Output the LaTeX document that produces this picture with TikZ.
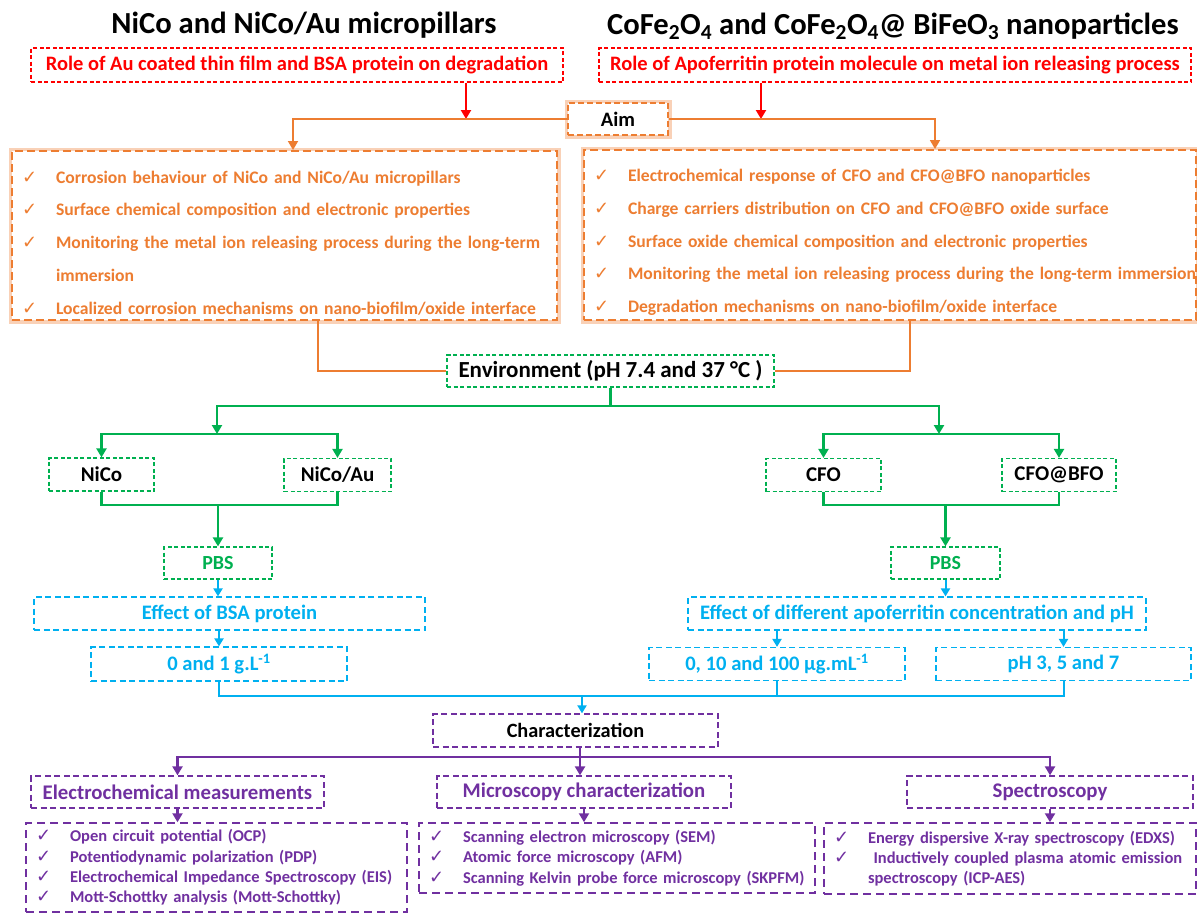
\documentclass[tikz,border=0pt]{standalone}
\usepackage{fontspec}
\setmainfont{Carlito}
\newfontfamily\symfont{DejaVu Sans}
\usepackage{xcolor}
\usetikzlibrary{arrows.meta, positioning}

\definecolor{redC}{HTML}{FF0000}
\definecolor{orangeC}{HTML}{ED7D31}
\definecolor{greenC}{HTML}{00B050}
\definecolor{blueC}{HTML}{00B0F0}
\definecolor{purpleC}{HTML}{7030A0}

\newcommand{\chk}[1]{\makebox[#1][l]{{\symfont\fontsize{18}{18}\selectfont ✓}}}
\newcommand{\nochk}[1]{\hspace*{#1}}

\begin{document}
\begin{tikzpicture}[
    x=1pt, y=-1pt,
    >={Triangle[length=9pt, width=10pt]},
    titletext/.style={inner sep=0pt, font=\bfseries\fontsize{30.6}{32}\selectfont},
    redbox/.style={rectangle, draw=redC, line width=1.3pt, dash pattern=on 4pt off 2.5pt, text=redC, minimum height=34pt, inner sep=2pt, font=\bfseries\fontsize{20.5}{22}\selectfont},
    aimbox/.style={rectangle, draw=orangeC, line width=1.6pt, dash pattern=on 6pt off 3pt, preaction={draw=orangeC!35, line width=7pt, solid}, fill=white, minimum width=100pt, minimum height=32pt, font=\bfseries\fontsize{20.5}{22}\selectfont},
    goalbox/.style={rectangle, draw=orangeC, line width=2pt, dash pattern=on 8pt off 4pt, preaction={draw=orangeC!35, line width=7pt, solid}, fill=white, text=orangeC, align=left, inner xsep=10pt, font=\bfseries\fontsize{17.6}{32.7}\selectfont},
    greenbox/.style={rectangle, draw=greenC, line width=1.2pt, dash pattern=on 4pt off 2.5pt, minimum height=33pt, inner sep=2pt, font=\bfseries\fontsize{21}{23}\selectfont},
    bluebox/.style={rectangle, draw=blueC, line width=1.2pt, dash pattern=on 6pt off 3.5pt, text=blueC, minimum height=33pt, inner sep=2pt, font=\bfseries\fontsize{20.6}{22}\selectfont},
    methodbox/.style={rectangle, draw=purpleC, line width=1.3pt, dash pattern=on 6pt off 3.5pt, text=purpleC, minimum height=32pt, inner sep=2pt, font=\bfseries\fontsize{20.8}{22}\selectfont},
    techbox/.style={rectangle, draw=purpleC, line width=1.5pt, dash pattern=on 8pt off 5pt, text=purpleC, align=left, inner xsep=10pt, font=\bfseries\fontsize{16.5}{20.3}\selectfont},
    redarrow/.style={->, draw=redC, line width=2.2pt},
    orangeline/.style={draw=orangeC, line width=1.8pt},
    greenline/.style={draw=greenC, line width=2.4pt},
    blueline/.style={draw=blueC, line width=2pt, >={Triangle[length=8pt, width=9pt]}},
    purpleline/.style={draw=purpleC, line width=2.2pt}
]
\useasboundingbox (0,0) rectangle (1197,914);

% Titles and roles
\node[titletext, anchor=base] (titleL) at (304,33) {NiCo and NiCo/Au micropillars};
\node[titletext, anchor=base] (titleR) at (893,34) {CoFe\textsubscript{2}O\textsubscript{4} and CoFe\textsubscript{2}O\textsubscript{4}@ BiFeO\textsubscript{3} nanoparticles};

\node[redbox, minimum width=532pt] (roleL) at (297,65) {Role of Au coated thin film and BSA protein on degradation};
\node[redbox, minimum width=592pt] (roleR) at (895,65) {Role of Apoferritin protein molecule on metal ion releasing process};

\node[aimbox] (aim) at (618,119) {Aim};

% Aims
\node[goalbox, minimum width=545pt, minimum height=169pt, text width=525pt] (goalL) at (284.5,235.5) {%
\rule{0pt}{27pt}\chk{34pt}\mbox{Corrosion behaviour of NiCo and NiCo/Au micropillars}\\
\chk{34pt}\mbox{Surface chemical composition and electronic properties}\\
\chk{34pt}\mbox{Monitoring the metal ion releasing process during the long-term}\\
\nochk{34pt}\mbox{immersion}\\
\chk{34pt}\mbox{Localized corrosion mechanisms on nano-biofilm/oxide interface}};
\node[goalbox, minimum width=612pt, minimum height=170pt, text width=592pt] (goalR) at (890,235) {%
\rule{0pt}{27pt}\chk{34pt}\mbox{Electrochemical response of CFO and CFO@BFO nanoparticles}\\
\chk{34pt}\mbox{Charge carriers distribution on CFO and CFO@BFO oxide surface}\\
\chk{34pt}\mbox{Surface oxide chemical composition and electronic properties}\\
\chk{34pt}\mbox{Monitoring the metal ion releasing process during the long-term immersion}\\
\chk{34pt}\mbox{Degradation mechanisms on nano-biofilm/oxide interface}};

% Environment and samples
\node[greenbox, minimum width=327pt, minimum height=32pt, font=\bfseries\fontsize{23}{25}\selectfont] (env) at (610.5,371) {Environment (pH 7.4 and 37 °C )};

\node[greenbox, minimum width=105pt] (nico) at (101.5,474.5) {NiCo};
\node[greenbox, minimum width=107pt] (nicoau) at (337.5,475) {NiCo/Au};
\node[greenbox, minimum width=115pt] (cfo) at (823.5,475) {CFO};
\node[greenbox, minimum width=114pt] (cfobfo) at (1059,475) {CFO@BFO};

\node[greenbox, text=greenC, minimum width=108pt, minimum height=32pt, font=\bfseries\fontsize{20}{22}\selectfont] (pbsL) at (218,563) {PBS};
\node[greenbox, text=greenC, minimum width=109pt, minimum height=32pt, font=\bfseries\fontsize{20}{22}\selectfont] (pbsR) at (945.5,563) {PBS};

% Protein effect
\node[bluebox, minimum width=391pt] (bsa) at (229.5,613.5) {Effect of BSA protein};
\node[bluebox, minimum width=458pt] (apo) at (917,613.5) {Effect of different apoferritin concentration and pH};
\node[bluebox, minimum width=256pt, minimum height=34pt] (concL) at (219,664) {0 and 1 g.L\textsuperscript{-1}};
\node[bluebox, minimum width=256pt] (concR) at (777,664) {0, 10 and 100 µg.mL\textsuperscript{-1}};
\node[bluebox, minimum width=255pt] (ph) at (1063.5,664) {pH 3, 5 and 7};

% Characterization
\node[methodbox, text=black, minimum width=285pt, minimum height=33pt, font=\bfseries\fontsize{20.3}{22}\selectfont] (charac) at (575.5,730.5) {Characterization};
\node[methodbox, minimum width=293pt] (electro) at (177.5,792) {Electrochemical measurements};
\node[methodbox, minimum width=294pt] (micro) at (584,792) {Microscopy characterization};
\node[methodbox, minimum width=286pt] (spectro) at (1050,792) {Spectroscopy};

\node[techbox, minimum width=381pt, minimum height=89pt, text width=361pt] (techE) at (216.5,867.5) {%
\chk{34pt}Open circuit potential (OCP)\\
\chk{34pt}Potentiodynamic polarization (PDP)\\
\chk{34pt}\mbox{Electrochemical Impedance Spectroscopy (EIS)}\\
\chk{34pt}Mott-Schottky analysis (Mott-Schottky)};
\node[techbox, minimum width=396pt, minimum height=70pt, text width=376pt] (techM) at (617,858) {%
\chk{34pt}Scanning electron microscopy (SEM)\\
\chk{34pt}Atomic force microscopy (AFM)\\
\chk{34pt}\mbox{Scanning Kelvin probe force microscopy (SKPFM)}};
\node[techbox, minimum width=372pt, minimum height=71pt, text width=352pt] (techS) at (1010,858.5) {%
\chk{34pt}\mbox{Energy dispersive X-ray spectroscopy (EDXS)}\\
\chk{34pt}\mbox{\ Inductively coupled plasma atomic emission}\\
\nochk{34pt}spectroscopy (ICP-AES)};

% Junctions
\coordinate (roleLfoot) at ([xshift=169pt]roleL.south);
\coordinate (roleRfoot) at ([xshift=-134pt]roleR.south);
\coordinate (greenL) at (217,406);
\coordinate (greenR) at (939,406);
\coordinate (forkL) at (217,434);
\coordinate (forkR) at (939,434);
\coordinate (nicoJoin) at (218,505);
\coordinate (cfoJoin) at (945.5,505);
\coordinate (blueJoin) at (582,696);
\coordinate (purpleJoin) at (580,757);

% Arrows
\draw[redarrow] (roleLfoot) -- (roleLfoot |- aim.west);
\draw[redarrow] (roleRfoot) -- (roleRfoot |- aim.west);

\draw[orangeline, ->] (aim.west) -| ([xshift=8.5pt]goalL.north);
\draw[orangeline, ->] (aim.east) -| ([xshift=45pt]goalR.north);
\draw[orangeline] ([xshift=33.5pt]goalL.south) |- (env.west);
\draw[orangeline] ([xshift=20pt]goalR.south) |- (env.east);

\draw[greenline] (env.south) -- (env.south |- greenL);
\draw[greenline, ->] (env.south |- greenL) -| (forkL);
\draw[greenline, ->] (env.south |- greenR) -| (forkR);
\draw[greenline, <->] (nico.north) |- (forkL) -| (nicoau.north);
\draw[greenline, <->] (cfo.north) |- (forkR) -| (cfobfo.north);
\draw[greenline] (nico.south) |- (nicoJoin) -| (nicoau.south);
\draw[greenline] (cfo.south) |- (cfoJoin) -| (cfobfo.south);
\draw[greenline, ->] (nicoJoin) -- (pbsL.north);
\draw[greenline, ->] (cfoJoin) -- (pbsR.north);

\draw[blueline, ->] (pbsL.south) -- (pbsL.south |- bsa.north);
\draw[blueline, ->] (pbsR.south) -- (pbsR.south |- apo.north);
\draw[blueline, ->] (bsa.south -| concL.north) -- (concL.north);
\draw[blueline, ->] (apo.south -| concR.north) -- (concR.north);
\draw[blueline, ->] (apo.south -| ph.north) -- (ph.north);
\draw[blueline] (concL.south) |- (blueJoin) -| (ph.south);
\draw[blueline] (concR.south) -- (concR.south |- blueJoin);
\draw[blueline, ->] (blueJoin) -- (blueJoin |- charac.north);

\draw[purpleline] (purpleJoin |- charac.south) -- (purpleJoin);
\draw[purpleline, <->] (electro.north) |- (purpleJoin) -| (spectro.north);
\draw[purpleline, ->] (purpleJoin) -- (purpleJoin |- micro.north);
\draw[purpleline, ->] (electro.south) -- (electro.south |- techE.north);
\draw[purpleline, ->] (micro.south) -- (micro.south |- techM.north);
\draw[purpleline, ->] (spectro.south) -- (spectro.south |- techS.north);

\end{tikzpicture}
\end{document}
